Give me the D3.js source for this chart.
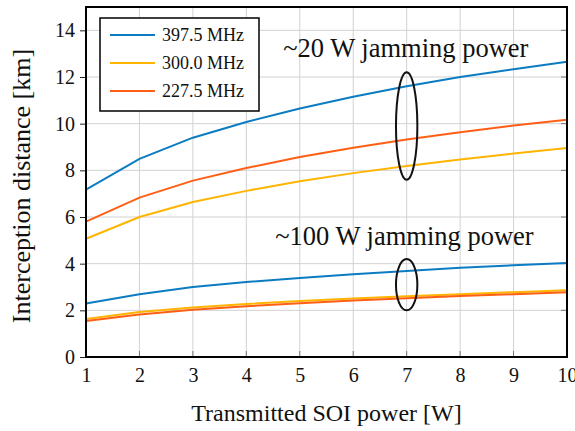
<!DOCTYPE html>
<html>
<head>
<meta charset="utf-8">
<script src="https://cdn.jsdelivr.net/npm/d3@7"></script>
<style>
  body { margin: 0; background: #fff; }
  text { font-family: "Liberation Serif", "Times New Roman", serif; fill: #111; }
</style>
</head>
<body>
<svg id="chart"></svg>
<script>
// data
const power = [1, 2, 3, 4, 5, 6, 7, 8, 9, 10]
const xTicks = [1, 2, 3, 4, 5, 6, 7, 8, 9, 10]
const yTicks = [0, 2, 4, 6, 8, 10, 12, 14]

const high397 = [7.17, 8.49, 9.40, 10.07, 10.65, 11.15, 11.60, 12.00, 12.33, 12.65]
const high300 = [5.07, 6.00, 6.64, 7.12, 7.53, 7.88, 8.19, 8.46, 8.72, 8.96]
const high227 = [5.80, 6.83, 7.56, 8.10, 8.57, 8.97, 9.32, 9.63, 9.92, 10.17]
const low397 = [2.29, 2.69, 3.00, 3.21, 3.39, 3.55, 3.69, 3.82, 3.93, 4.03]
const low300 = [1.63, 1.93, 2.12, 2.27, 2.40, 2.51, 2.60, 2.69, 2.78, 2.86]
const low227 = [1.54, 1.82, 2.03, 2.18, 2.30, 2.42, 2.52, 2.61, 2.69, 2.77]

const seriesNames = ['397.5 MHz', '300.0 MHz', '227.5 MHz']
const colors = ['#0b7cc1', '#ffb400', '#ff5f14']

const width = 575, height = 431
const margin = { left: 86, right: 8, top: 7, bottom: 74 }

const svg = d3.select('#chart').attr('width', width).attr('height', height)

const x = d3.scaleLinear().domain([1, 10]).range([margin.left, width - margin.right])
const y = d3.scaleLinear().domain([0, 15]).range([height - margin.bottom, margin.top])

const plotW = width - margin.left - margin.right
const plotH = height - margin.top - margin.bottom

// grid
svg.append('g').selectAll('line.vg').data(xTicks).join('line')
    .attr('x1', d => x(d)).attr('x2', d => x(d))
    .attr('y1', y(0)).attr('y2', y(15))
    .attr('stroke', '#d2d2d2').attr('stroke-width', 1)
svg.append('g').selectAll('line.hg').data(yTicks).join('line')
    .attr('y1', d => y(d)).attr('y2', d => y(d))
    .attr('x1', x(1)).attr('x2', x(10))
    .attr('stroke', '#d2d2d2').attr('stroke-width', 1)

// axes
const xAxis = svg.append('g')
    .attr('transform', `translate(0,${y(0)})`)
    .call(d3.axisBottom(x).tickValues(xTicks).tickSize(0).tickPadding(11).tickFormat(d3.format('d')))
xAxis.select('.domain').remove()
xAxis.selectAll('text').style('font-size', '20px').style('font-family', '"Liberation Serif", serif')

const yAxis = svg.append('g')
    .attr('transform', `translate(${x(1)},0)`)
    .call(d3.axisLeft(y).tickValues(yTicks).tickSize(6).tickPadding(5).tickFormat(d3.format('d')))
yAxis.select('.domain').remove()
yAxis.selectAll('line').attr('stroke', '#222')
yAxis.selectAll('text').style('font-size', '20px').style('font-family', '"Liberation Serif", serif')

// inner ticks on right and bottom
svg.append('g').selectAll('line').data(yTicks).join('line')
    .attr('x1', x(10) - 6).attr('x2', x(10))
    .attr('y1', d => y(d)).attr('y2', d => y(d))
    .attr('stroke', '#777')
svg.append('g').selectAll('line').data(xTicks).join('line')
    .attr('x1', d => x(d)).attr('x2', d => x(d))
    .attr('y1', y(0) - 6).attr('y2', y(0))
    .attr('stroke', '#777')

// lines
const line = d3.line().x((d, i) => x(power[i])).y(d => y(d))
const groups = [[high397, high300, high227], [low397, low300, low227]]
for (const g of groups) {
    g.forEach((vals, i) => {
        svg.append('path')
            .datum(vals)
            .attr('d', line)
            .attr('fill', 'none')
            .attr('stroke', colors[i])
            .attr('stroke-width', 2)
    })
}

// ellipses marking each group
const rings = [{ cx: 7, cy: 9.9, rx: 0.2, ry: 2.3 }, { cx: 7, cy: 3.1, rx: 0.2, ry: 1.1 }]
svg.append('g').selectAll('ellipse').data(rings).join('ellipse')
    .attr('cx', d => x(d.cx)).attr('cy', d => y(d.cy))
    .attr('rx', d => x(d.cx + d.rx) - x(d.cx))
    .attr('ry', d => y(d.cy - d.ry) - y(d.cy))
    .attr('fill', 'none').attr('stroke', '#111').attr('stroke-width', 2)

// annotations
const notes = [{ x: 4.69, y: 12.85, t: '~20 W jamming power' }, { x: 4.54, y: 4.8, t: '~100 W jamming power' }]
svg.append('g').selectAll('text').data(notes).join('text')
    .attr('x', d => x(d.x)).attr('y', d => y(d.y))
    .style('font-size', '26.5px')
    .text(d => d.t)

// frame
svg.append('rect')
    .attr('x', margin.left).attr('y', margin.top)
    .attr('width', plotW).attr('height', plotH)
    .attr('fill', 'none').attr('stroke', '#000').attr('stroke-width', 2)

// legend
const legend = svg.append('g').attr('transform', 'translate(100,18)')
legend.append('rect').attr('width', 159).attr('height', 93)
    .attr('fill', '#fff').attr('stroke', '#000').attr('stroke-width', 1.5)
seriesNames.forEach((name, i) => {
    const row = legend.append('g').attr('transform', `translate(0,${17 + i * 28})`)
    row.append('line').attr('x1', 10).attr('x2', 55)
        .attr('stroke', colors[i]).attr('stroke-width', 2)
    row.append('text').attr('x', 62).attr('y', 6)
        .style('font-size', '18px').text(name)
})

// axis titles
svg.append('text')
    .attr('x', (x(1) + x(10)) / 2).attr('y', 421)
    .attr('text-anchor', 'middle')
    .style('font-size', '24px')
    .text('Transmitted SOI power [W]')

svg.append('text')
    .attr('transform', `translate(30,${(y(0) + y(15)) / 2 + 4}) rotate(-90)`)
    .attr('text-anchor', 'middle')
    .style('font-size', '26px')
    .text('Interception distance [km]')
</script>
</body>
</html>
